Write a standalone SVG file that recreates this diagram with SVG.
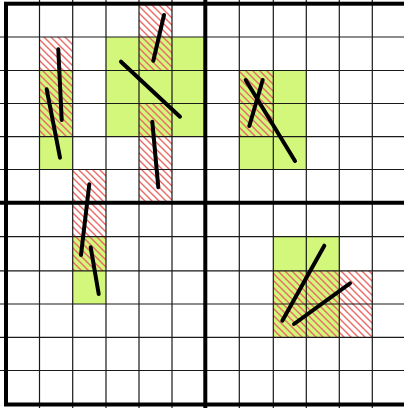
<svg xmlns="http://www.w3.org/2000/svg" width="404" height="408" viewBox="0 0 404 408">
  <defs>
    <pattern id="hatch" patternUnits="userSpaceOnUse" width="7" height="7">
      <path d="M-1,-1 L8,8 M-1,6 L1,8 M6,-1 L8,1" stroke="#ea6a66" stroke-width="1.4"/>
    </pattern>
    <style>
      .g{fill:#d2f77a}
      .h{fill:url(#hatch)}
      .gl{stroke:#1a1a1a;stroke-width:1.2;fill:none}
      .thick{stroke:#000;stroke-width:4;fill:none}
      .seg{stroke:#000;stroke-width:4;stroke-linecap:round}
    </style>
  </defs>
  <rect width="404" height="408" fill="#fff"/>
  <g id="green">
    <rect class="g" x="39.5" y="70.5" width="33.2" height="99"/>
    <rect class="g" x="106" y="37" width="99.3" height="99.7"/>
    <rect class="g" x="72.7" y="236.7" width="33.3" height="67.3"/>
    <rect class="g" x="239.3" y="70.5" width="67" height="99"/>
    <rect class="g" x="273.3" y="236.7" width="66" height="100.6"/>
  </g>
  <g id="hatched">
    <rect class="h" x="39.5" y="37" width="33.2" height="99.7"/>
    <rect class="h" x="139" y="3.7" width="33" height="66.8"/>
    <rect class="h" x="139" y="103.5" width="33" height="99.2"/>
    <rect class="h" x="72.7" y="169.5" width="33.3" height="101.3"/>
    <rect class="h" x="239.3" y="70.5" width="34" height="66.2"/>
    <rect class="h" x="273.3" y="270.8" width="99" height="66.5"/>
  </g>
  <g id="grid">
    <path class="gl" d="M39.5,0V408M72.7,0V408M106,0V408M139,0V408M172,0V408M239.3,0V408M273.3,0V408M306.3,0V408M339.3,0V408M372.3,0V408"/>
    <path class="gl" d="M0,37H404M0,70.5H404M0,103.5H404M0,136.7H404M0,169.5H404M0,236.7H404M0,270.8H404M0,304H404M0,337.3H404M0,370.5H404"/>
    <rect class="thick" x="6" y="3.7" width="402" height="400.8"/>
    <path class="thick" d="M205.3,0V408M0,202.7H404" stroke-width="3.6"/>
  </g>
  <g id="segments">
    <line class="seg" x1="58.3" y1="49.3" x2="61.7" y2="120"/>
    <line class="seg" x1="46.7" y1="89.3" x2="60" y2="157.7"/>
    <line class="seg" x1="164" y1="15" x2="153.3" y2="60.7"/>
    <line class="seg" x1="121" y1="61.7" x2="180" y2="116.7"/>
    <line class="seg" x1="152.3" y1="121.7" x2="158.3" y2="187.3"/>
    <line class="seg" x1="89.3" y1="184.3" x2="81" y2="255"/>
    <line class="seg" x1="90.7" y1="247.3" x2="98.7" y2="294"/>
    <line class="seg" x1="245.7" y1="80" x2="295" y2="161"/>
    <line class="seg" x1="262.7" y1="80" x2="249.3" y2="126"/>
    <line class="seg" x1="324.3" y1="245.7" x2="282.3" y2="320.7"/>
    <line class="seg" x1="350" y1="283.3" x2="294" y2="324"/>
  </g>
</svg>
